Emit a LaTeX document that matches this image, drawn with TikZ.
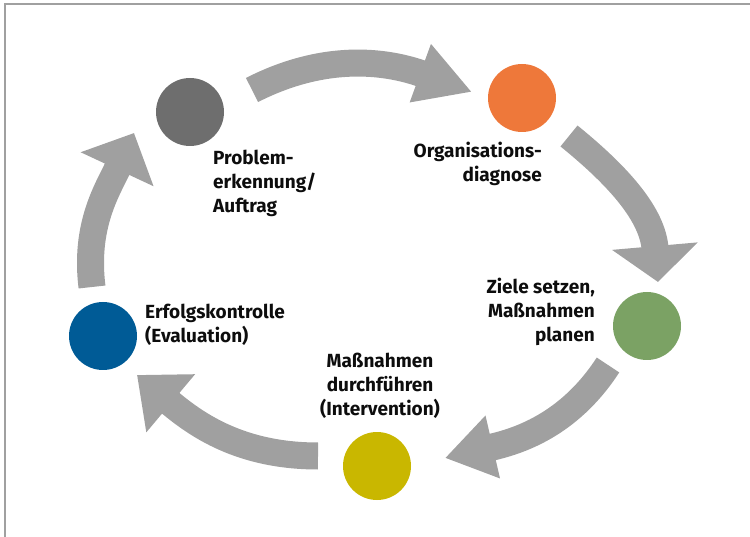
\documentclass[tikz,border=0pt]{standalone}
\usepackage{fontspec}
\setmainfont{Fira Sans}
\usetikzlibrary{positioning, arrows.meta}
\definecolor{phgray}{RGB}{110,110,110}
\definecolor{phorange}{RGB}{238,120,58}
\definecolor{phgreen}{RGB}{123,162,100}
\definecolor{phyellow}{RGB}{201,183,0}
\definecolor{phblue}{RGB}{0,91,150}
\definecolor{arrowgray}{RGB}{160,160,160}

\begin{document}
\begin{tikzpicture}[x=1pt,y=1pt,on grid,
    phase/.style={circle,minimum size=68pt,inner sep=0pt},
    lbl/.style={inner sep=0pt,font=\fontsize{19}{24}\selectfont\bfseries,text=black!95},
    cyc/.style={line width=27pt,draw=arrowgray}]
      \useasboundingbox (0,0) rectangle (750,-537);
      \draw[arrowgray,line width=1.5pt] (5,-537) -- (5,-4) -- (750,-4);

      % phases
      \node[phase,fill=phgray] (p_0) at (190,-112) {};
      \node[phase,fill=phorange] (p_1) [above right=14pt and 332pt of p_0] {};
      \node[phase,fill=phgreen] (p_2) [below right=228pt and 125pt of p_1] {};
      \node[phase,fill=phyellow] (p_3) [below left=140pt and 270pt of p_2] {};
      \node[phase,fill=phblue] (p_4) [above left=130pt and 274pt of p_3] {};

      % labels
      \node[lbl,anchor=north west,align=left] (t_0) at (213,-150) {Problem-\\erkennung/\\Auftrag};
      \node[lbl,anchor=north east,align=right] (t_1) at (542,-142) {Organisations-\\diagnose};
      \node[lbl,anchor=north east,align=right] (t_2) at (595,-278) {Ziele setzen,\\Maßnahmen\\planen};
      \node[lbl,anchor=north,align=center] (t_3) at (380,-353) {Maßnahmen\\durchführen\\(Intervention)};
      \node[lbl,anchor=north west,align=left] (t_4) at (145,-304) {Erfolgskontrolle\\(Evaluation)};

      % cycle arrows
      \coordinate (a_0) at (252,-90);  \coordinate (b_0) at (472,-92);
      \coordinate (a_1) at (569,-136); \coordinate (b_1) at (658,-282);
      \coordinate (a_2) at (608,-365); \coordinate (b_2) at (445,-458);
      \coordinate (a_3) at (318,-456); \coordinate (b_3) at (137,-375);
      \coordinate (a_4) at (92,-287);  \coordinate (b_4) at (134,-133);

      \draw[cyc,-{Triangle[length=55pt,width=58pt]}] (a_0) to[out=27,in=160] (b_0);
      \draw[cyc,-{Triangle[length=36pt,width=84pt]}] (a_1) to[out=-39,in=95] (b_1);
      \draw[cyc,-{Triangle[length=49pt,width=61pt]}] (a_2) to[out=237,in=13] (b_2);
      \draw[cyc,-{Triangle[length=44pt,width=73pt]}] (a_3) to[out=180,in=320] (b_3);
      \draw[cyc,-{Triangle[length=40pt,width=78pt]}] (a_4) to[out=97,in=245] (b_4);
    \end{tikzpicture}
\end{document}
